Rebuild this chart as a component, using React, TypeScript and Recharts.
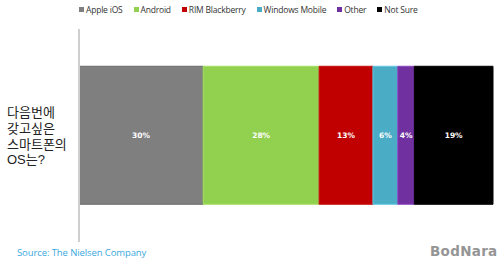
import { BarChart, Bar, XAxis, YAxis, LabelList, ReferenceLine } from 'recharts';

const categories = ['다음번에 갖고싶은 스마트폰의 OS는?'];
const seriesNames = ['Apple iOS', 'Android', 'RIM Blackberry', 'Windows Mobile', 'Other', 'Not Sure'];
const seriesValues = [30, 28, 13, 6, 4, 19];
const seriesColors = ['#7f7f7f', '#92d050', '#c00000', '#4bacc6', '#7030a0', '#000000'];
const seriesStrokes = ['#6b6b6b', '#a6e060', '#c81010', '#5cc8e0', '#8a44c0', '#000000'];
const questionLines = ['다음번에', '갖고싶은', '스마트폰의', 'OS는?'];

const data = categories.map((name) => {
  const row: Record<string, string | number> = { name };
  seriesNames.forEach((s, i) => {
    row[s] = seriesValues[i];
  });
  return row;
});

const font = '"Open Sans", "Liberation Sans", Arial, sans-serif';

function LegendRow() {
  return (
    <div
      style={{
        position: 'absolute',
        left: 79,
        top: 4,
        display: 'flex',
        gap: 11,
        fontFamily: font,
        fontSize: 8.5,
        color: '#333',
        whiteSpace: 'nowrap',
      }}
    >
      {seriesNames.map((s, i) => (
        <div key={s} style={{ display: 'flex', alignItems: 'center', gap: 2 }}>
          <span style={{ width: 5, height: 5, background: seriesColors[i], display: 'inline-block' }} />
          <span style={{ letterSpacing: -0.2 }}>{s}</span>
        </div>
      ))}
    </div>
  );
}

export default function App() {
  return (
    <div style={{ position: 'absolute', left: 0, top: 0, width: 500, height: 265, background: '#fff', overflow: 'hidden' }}>
      <BarChart
        width={500}
        height={265}
        data={data}
        layout="vertical"
        margin={{ top: 29, right: 7, bottom: 23, left: 79 }}
        barCategoryGap="17.5%"
      >
        <XAxis type="number" domain={[0, 100]} hide />
        <YAxis type="category" dataKey="name" hide />
        <ReferenceLine x={0} stroke="#cfcfcf" strokeWidth={2} />
        {seriesNames.map((s, i) => (
          <Bar
            key={s}
            dataKey={s}
            stackId="os"
            fill={seriesColors[i]}
            stroke={seriesStrokes[i]}
            strokeWidth={1}
            isAnimationActive={false}
          >
            <LabelList
              dataKey={s}
              position="center"
              formatter={(v: number) => `${v}%`}
              style={{ fill: '#fff', fontSize: 7.5, fontWeight: 'bold', fontFamily: '"DejaVu Sans", sans-serif' }}
            />
          </Bar>
        ))}
      </BarChart>
      <LegendRow />
      <div
        style={{
          position: 'absolute',
          left: 7,
          top: 105,
          fontFamily: '"Liberation Sans", "Noto Sans CJK KR", sans-serif',
          fontSize: 13,
          lineHeight: '15.8px',
          color: '#222',
        }}
      >
        {questionLines.map((l) => (
          <div key={l}>{l}</div>
        ))}
      </div>
      <div
        style={{
          position: 'absolute',
          left: 17,
          top: 246,
          fontFamily: font,
          fontSize: 9.5,
          color: '#3aa9e0',
          letterSpacing: -0.1,
        }}
      >
        Source: The Nielsen Company
      </div>
      <div
        style={{
          position: 'absolute',
          left: 430,
          top: 243,
          fontFamily: '"DejaVu Sans", sans-serif',
          fontSize: 13.5,
          fontWeight: 'bold',
          color: '#959595',
          letterSpacing: 0.3,
        }}
      >
        BodNara
      </div>
    </div>
  );
}
